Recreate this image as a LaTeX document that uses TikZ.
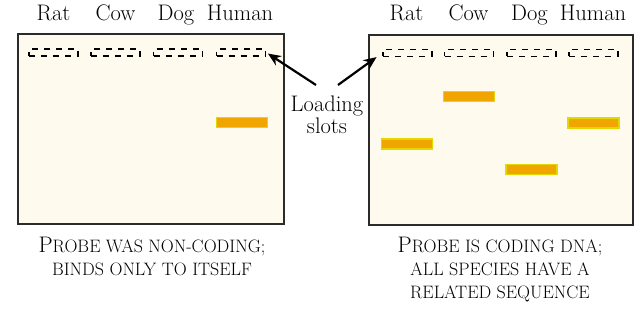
\documentclass[tikz,border=0pt]{standalone}
\usepackage{xcolor}
\usepackage{tikz}
\usetikzlibrary{
  arrows.meta,
  positioning,
  calc
}
\definecolor{gelCream}{HTML}{FEFAEE}
\definecolor{gelRim}{HTML}{2B2B2B}
\definecolor{bandFill}{HTML}{F0A500}
\definecolor{bandRim}{HTML}{E3D800}
\newcommand{\capbig}[1]{{\fontsize{22.5}{23}\selectfont #1}}
\tikzset{
  gel/.style={
    draw=gelRim, fill=gelCream, line width=1.1pt, minimum width=266pt, minimum height=190pt,
    inner sep=0pt
  },
  slot/.style={
    draw=black, dash pattern=on 6pt off 6pt, line width=1.5pt,
    minimum width=49pt, minimum height=7pt, inner sep=0pt
  },
  band/.style={
    draw=bandRim, fill=bandFill, line width=1.6pt,
    minimum width=51pt, minimum height=10pt, inner sep=0pt
  },
  lane/.style={font=\fontsize{22.5}{24}\selectfont, anchor=base, inner sep=0pt},
  caption/.style={font=\fontsize{18}{23}\selectfont, align=center, anchor=north, inner sep=0pt},
  pointer/.style={-{Stealth[length=13pt, width=11pt]}, line width=2.2pt, black}
}

\begin{document}
\begin{tikzpicture}[x=1pt, y=-1pt]
  \useasboundingbox (0,0) rectangle (634,320);

  % left gel: non-coding probe
  \node[gel] (gelL) at (151,129) {};
  \node[slot] (slotLR) at (53.5,52.5) {};
  \node[slot] (slotLC) at (115.5,52.5) {};
  \node[slot] (slotLD) at (178,52.5) {};
  \node[slot] (slotLH) at (241,52.5) {};
  \node[lane] (laneLR) at (53.5,21) {Rat};
  \node[lane] (laneLC) at (115.5,21) {Cow};
  \node[lane] (laneLD) at (176,21) {Dog};
  \node[lane] (laneLH) at (240,21) {Human};
  \node[band] (bandLH) at (242,122.5) {};

  % right gel: coding probe
  \node[gel, minimum width=264pt] (gelR) at (501,130) {};
  \node[slot] (slotRR) at (407.5,53) {};
  \node[slot] (slotRC) at (469,53) {};
  \node[slot] (slotRD) at (531.5,53) {};
  \node[slot] (slotRH) at (593.5,53) {};
  \node[lane] (laneRR) at (406.5,21) {Rat};
  \node[lane] (laneRC) at (468.5,21) {Cow};
  \node[lane] (laneRD) at (529.5,21) {Dog};
  \node[lane] (laneRH) at (593,21) {Human};
  \node[band] (bandRR) at (407,144) {};
  \node[band] (bandRC) at (469,96.5) {};
  \node[band] (bandRD) at (531.5,169.5) {};
  \node[band] (bandRH) at (593.5,123) {};

  % loading slots label
  \node[font=\fontsize{22.5}{22}\selectfont, align=center, inner sep=0pt] (load) at (327,115) {Loading\\slots};
  \coordinate (tailL) at (316,85);
  \coordinate (tailR) at (338,85);
  \draw[pointer, shorten >=2pt] (tailL) -- (slotLH.east);
  \draw[pointer, shorten >=7pt] (tailR) -- (slotRR.west);

  % captions
  \node[caption] (capL) at (152,237) {\capbig{P}ROBE WAS NON-CODING;\\BINDS ONLY TO ITSELF};
  \node[caption] (capR) at (500,237) {\capbig{P}ROBE IS CODING DNA;\\ALL SPECIES HAVE A\\RELATED SEQUENCE};
\end{tikzpicture}
\end{document}
